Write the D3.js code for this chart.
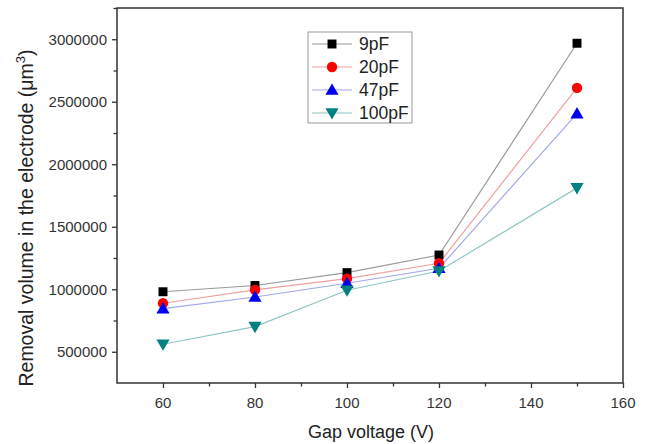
<!DOCTYPE html>
<html>
<head>
<meta charset="utf-8">
<script src="https://cdn.jsdelivr.net/npm/d3@7"></script>
<style>
  body { margin: 0; background: #fff; }
  svg { display: block; font-family: "Liberation Sans", Arial, sans-serif; }
</style>
</head>
<body>
<script>
// data
const voltages = [60, 80, 100, 120, 150];
const seriesNames = ["9pF", "20pF", "47pF", "100pF"];
const v9pF = [980000, 1030000, 1133000, 1274000, 2968000];
const v20pF = [888000, 995000, 1085000, 1208000, 2611000];
const v47pF = [845000, 938000, 1048000, 1168000, 2405000];
const v100pF = [560000, 701000, 992000, 1146000, 1811000];
const xTicks = [60, 80, 100, 120, 140, 160];
const yTicks = [500000, 1000000, 1500000, 2000000, 2500000, 3000000];

const series = [
  { name: seriesNames[0], values: v9pF, color: "#000", line: "#9a9a9a", shape: d3.symbolSquare, size: 80 },
  { name: seriesNames[1], values: v20pF, color: "#f00", line: "#f0a0a0", shape: d3.symbolCircle, size: 85 },
  { name: seriesNames[2], values: v47pF, color: "#0000f0", line: "#a0a8e8", shape: d3.symbolTriangle, size: 75, dy: 1 },
  { name: seriesNames[3], values: v100pF, color: "#008080", line: "#90c4c4", shape: d3.symbolTriangle, size: 75, flip: true, dy: -1 },
];

const width = 648, height = 444;
const margin = { left: 117, right: 25, top: 8, bottom: 61 };

const svg = d3.select("body").append("svg")
  .attr("width", width)
  .attr("height", height);

const x = d3.scaleLinear().domain([50, 160]).range([margin.left, width - margin.right]);
const y = d3.scaleLinear().domain([250000, 3250000]).range([height - margin.bottom, margin.top]);

// frame
svg.append("rect")
  .attr("x", x(50)).attr("y", y(3250000))
  .attr("width", x(160) - x(50)).attr("height", y(250000) - y(3250000))
  .attr("fill", "none").attr("stroke", "#333").attr("stroke-width", 1.5);

// bottom axis with minor ticks
const xAxis = svg.append("g").attr("transform", `translate(0,${y(250000)})`);
xAxis.call(d3.axisBottom(x).tickValues(d3.range(60, 161, 10)).tickSize(5).tickFormat(""));
xAxis.selectAll(".tick line").attr("stroke-width", 1.3).attr("stroke", "#333")
  .attr("y2", (d) => xTicks.includes(d) ? 5 : 3.5);
xAxis.select(".domain").remove();
svg.append("g").selectAll("text").data(xTicks).join("text")
  .attr("x", (d) => x(d)).attr("y", y(250000) + 25)
  .attr("text-anchor", "middle").attr("font-size", 15).attr("fill", "#333")
  .text((d) => d);

// left axis with minor ticks
const yAxis = svg.append("g").attr("transform", `translate(${x(50)},0)`);
yAxis.call(d3.axisLeft(y).tickValues(d3.range(500000, 3250001, 250000)).tickSize(5).tickFormat(""));
yAxis.selectAll(".tick line").attr("stroke-width", 1.3).attr("stroke", "#333")
  .attr("x2", (d) => yTicks.includes(d) ? -5 : -3.5);
yAxis.select(".domain").remove();
svg.append("g").selectAll("text").data(yTicks).join("text")
  .attr("x", x(50) - 10).attr("y", (d) => y(d) + 5.5)
  .attr("text-anchor", "end").attr("font-size", 15).attr("fill", "#333")
  .text((d) => d);

// axis titles
svg.append("text")
  .attr("x", 371).attr("y", 438)
  .attr("text-anchor", "middle").attr("font-size", 18).attr("fill", "#222")
  .text("Gap voltage (V)");

const yt = svg.append("text")
  .attr("transform", "translate(33,218) rotate(-90)")
  .attr("text-anchor", "middle").attr("font-size", 19.5).attr("fill", "#222");
yt.append("tspan").text("Removal volume in the electrode (\u03bcm");
yt.append("tspan").attr("dy", -8).attr("font-size", 13).text("3");
yt.append("tspan").attr("dy", 8).text(")");

// lines
const line = d3.line().x((d, i) => x(voltages[i])).y((d) => y(d));
svg.append("g").selectAll("path").data(series).join("path")
  .attr("d", (s) => line(s.values))
  .attr("fill", "none").attr("stroke", (s) => s.line).attr("stroke-width", 1.2);

// markers
const sym = (s) => d3.symbol().type(s.shape).size(s.size)();
const markTf = (s, px, py) => `translate(${px},${py + (s.dy || 0)})${s.flip ? " rotate(180)" : ""}`;
series.forEach((s) => {
  svg.append("g").selectAll("path").data(s.values).join("path")
    .attr("d", sym(s))
    .attr("transform", (d, i) => markTf(s, x(voltages[i]), y(d)))
    .attr("fill", s.color);
});

// legend
const lg = svg.append("g").attr("transform", "translate(308,32)");
lg.append("rect").attr("width", 104).attr("height", 91)
  .attr("fill", "#fff").attr("stroke", "#999").attr("stroke-width", 1);
series.forEach((s, i) => {
  const ly = 12 + i * 23;
  lg.append("line").attr("x1", 4).attr("x2", 44).attr("y1", ly).attr("y2", ly)
    .attr("stroke", s.line).attr("stroke-width", 1.2);
  lg.append("path").attr("d", sym(s)).attr("transform", markTf(s, 24, ly)).attr("fill", s.color);
  lg.append("text").attr("x", 51).attr("y", ly + 6)
    .attr("font-size", 17.5).attr("fill", "#222").text(s.name);
});
</script>
</body>
</html>
